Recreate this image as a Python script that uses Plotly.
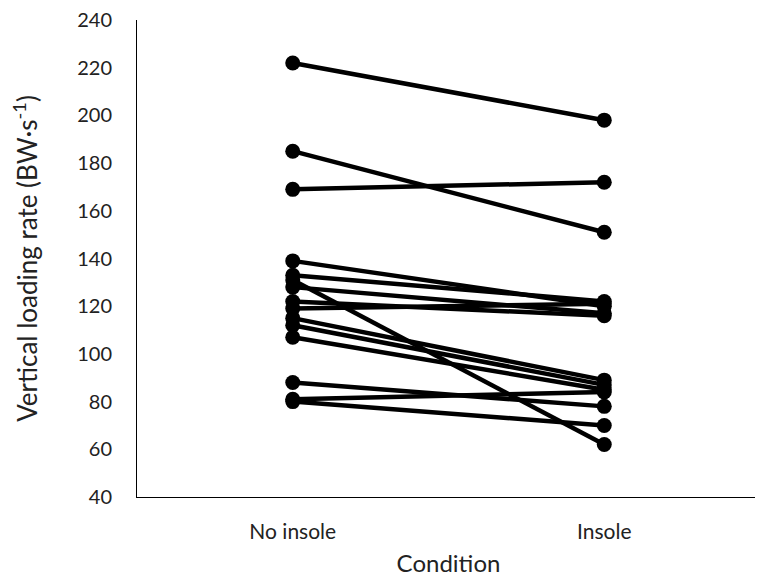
import plotly.graph_objects as go

conditions = ["No insole", "Insole"]
no_insole = [222, 185, 169, 139, 133, 131, 128, 122, 119, 115, 112, 107, 88, 81, 80]
insole = [198, 151, 172, 120, 122, 62, 117, 116, 121, 89, 87, 85, 78, 84, 70]
y_ticks = [40, 60, 80, 100, 120, 140, 160, 180, 200, 220, 240]

fig = go.Figure()
for a, b in zip(no_insole, insole):
    fig.add_trace(go.Scatter(
        x=conditions, y=[a, b], mode="lines+markers",
        line=dict(color="black", width=4.5),
        marker=dict(color="black", size=15),
        showlegend=False, hoverinfo="skip"))

font_family = "Lato, Carlito, Calibri, sans-serif"
# page body has an 8px margin, so the figure is sized and offset to compensate
fig.update_layout(
    width=755, height=571,
    margin=dict(l=129, r=3, t=12, b=82, autoexpand=False),
    paper_bgcolor="white", plot_bgcolor="white",
    font=dict(family=font_family, color="#222222"),
    xaxis=dict(
        type="category", range=[-0.5, 1.5], automargin=False,
        showline=True, linecolor="black", linewidth=1,
        showgrid=False, zeroline=False, ticks="",
        tickfont=dict(size=21, family=font_family, color="#222222"),
        ticklabelstandoff=16,
        title=dict(text="Condition", font=dict(size=24, family=font_family, color="#222222"), standoff=12),
    ),
    yaxis=dict(
        range=[40, 240], tickvals=y_ticks, automargin=False,
        ticklabeloverflow="allow",
        showline=True, linecolor="black", linewidth=1,
        showgrid=False, zeroline=False, ticks="",
        tickfont=dict(size=20, family=font_family, color="#222222"),
        ticklabelstandoff=20,
        title=dict(text="Vertical loading rate (BW·s<sup>-1</sup>)",
                   font=dict(size=26, family=font_family, color="#222222"), standoff=49),
    ),
)
fig.write_html("out.html")
